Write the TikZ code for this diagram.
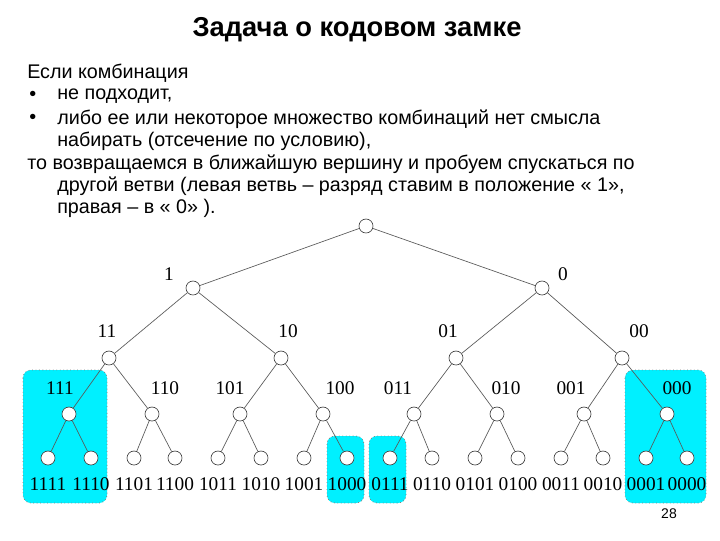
\documentclass[tikz,border=0pt]{standalone}
\usepackage{fontspec}
\setmainfont{Liberation Sans}
\newfontfamily\tms{Liberation Serif}
\definecolor{hcyan}{RGB}{0,240,255}
\begin{document}
\begin{tikzpicture}[x=0.75pt,y=-0.75pt,
  vtx/.style={circle,draw=black!75,fill=white,line width=0.5pt,minimum size=14*0.75pt,inner sep=0pt},
  lbl/.style={font=\tms\fontsize{14.5}{15}\selectfont,inner sep=0pt},
  edge/.style={draw=black!65,line width=0.5pt},
  hbox/.style={fill=hcyan,draw=black!50,dotted,rounded corners=6pt,line width=0.6pt},
  txt/.style={font=\fontsize{14.8}{16}\selectfont,anchor=west,inner sep=0pt}]
\useasboundingbox (0,0) rectangle (720,540);
\node[font=\bfseries\fontsize{20.5}{22}\selectfont] (title) at (357,30) {Задача о кодовом замке};
\node[txt] (t1) at (27,73) {Если комбинация};
\node[txt] (b1) at (29,96) {•}; \node[txt] (t2) at (57,96) {не подходит,};
\node[txt] (b2) at (29,119) {•}; \node[txt] (t3) at (57,119) {либо ее или некоторое множество комбинаций нет смысла};
\node[txt] (t4) at (57,141) {набирать (отсечение по условию),};
\node[txt] (t5) at (27,164) {то возвращаемся в ближайшую вершину и пробуем спускаться по};
\node[txt] (t6) at (57,186) {другой ветви (левая ветвь – разряд ставим в положение « 1»,};
\node[txt] (t7) at (57,208) {правая – в « 0» ).};
\node[font=\fontsize{10.5}{12}\selectfont] (pg) at (669,514) {28};
% highlight boxes
\draw[hbox] (23,370) rectangle (107,503);
\draw[hbox] (327,436) rectangle (364,503);
\draw[hbox] (369,436) rectangle (406,503);
\draw[hbox] (625,370) rectangle (706,503);
% nodes
\node[vtx] (r) at (366,226) {};
\node[vtx] (n1) at (193,288) {}; \node[vtx] (n0) at (542,288) {};
\node[lbl] (l1) at (169,274) {1}; \node[lbl] (l0) at (563,274) {0};
\foreach \n/\x/\lx in {11/109/107,10/281/288,01/456/448,00/622/639}{
  \node[vtx] (n\n) at (\x,358) {};
  \node[lbl] (l\n) at (\lx,331) {\n};}
\foreach \n/\x/\lx in {111/69/60,110/152/165,101/240/230,100/323/340,011/414/398,010/497/506,001/584/571,000/667/677}{
  \node[vtx] (n\n) at (\x,414) {};
  \node[lbl] (l\n) at (\lx,388) {\n};}
\foreach \n/\x in {1111/48,1110/91,1101/134,1100/175,1011/218,1010/261,1001/304,1000/347,0111/390,0110/432,0101/475,0100/518,0011/561,0010/603,0001/646,0000/687}{
  \node[vtx] (n\n) at (\x,458) {};
  \node[lbl] (l\n) at (\x,484) {\n};}
% edges
\foreach \p/\c in {r/n1,r/n0,n1/n11,n1/n10,n0/n01,n0/n00,
  n11/n111,n11/n110,n10/n101,n10/n100,n01/n011,n01/n010,n00/n001,n00/n000,
  n111/n1111,n111/n1110,n110/n1101,n110/n1100,n101/n1011,n101/n1010,n100/n1001,n100/n1000,
  n011/n0111,n011/n0110,n010/n0101,n010/n0100,n001/n0011,n001/n0010,n000/n0001,n000/n0000}
  {\draw[edge] (\p) -- (\c);}
\end{tikzpicture}
\end{document}
